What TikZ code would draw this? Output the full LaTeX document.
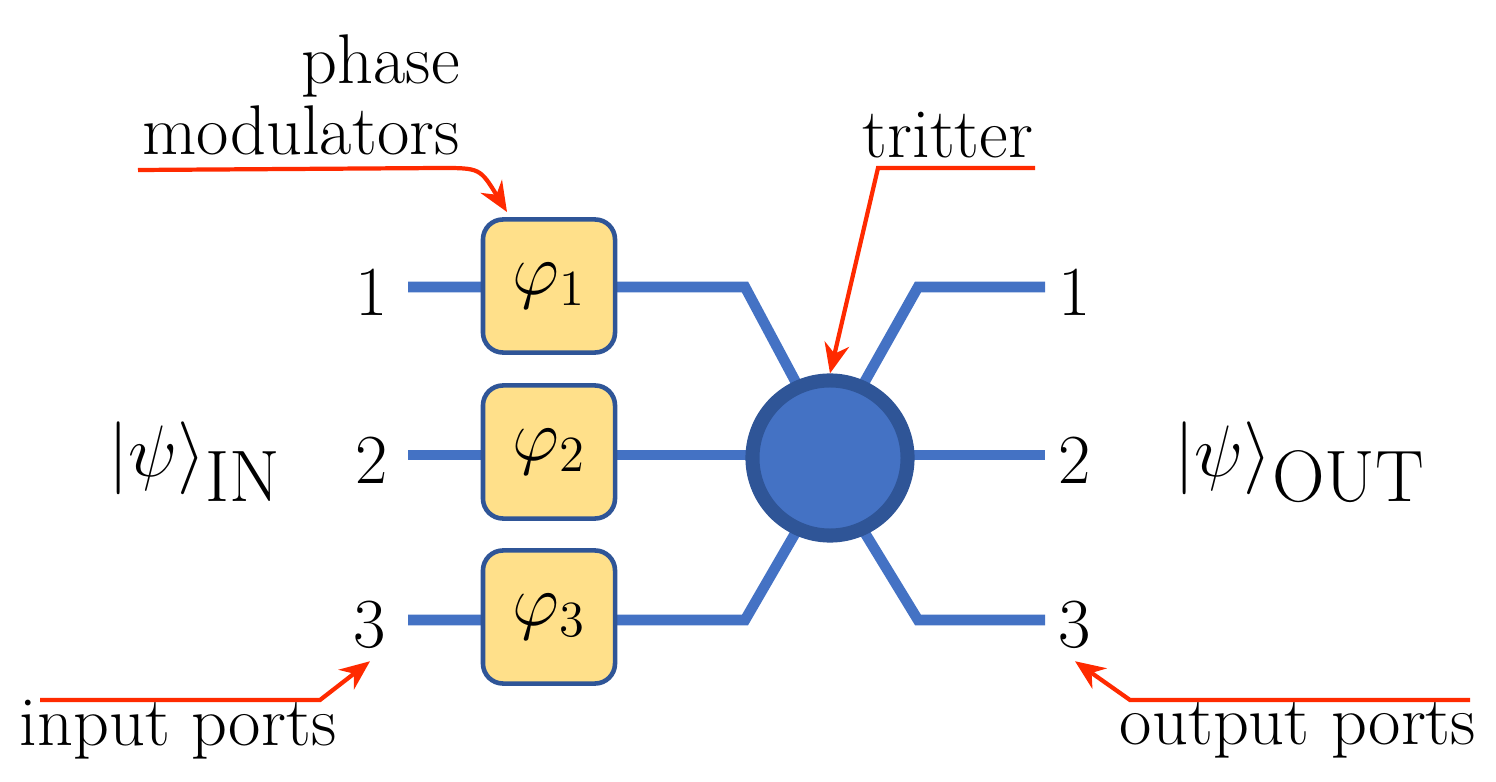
\documentclass[tikz,border=0pt]{standalone}
\usetikzlibrary{arrows.meta}
\begin{document}
\begin{tikzpicture}[x=0.01cm,y=-0.01cm,
  wg/.style={draw=wgblue,line width=3pt},
  pm/.style={draw=bord,fill=pmyellow,line width=1.3pt,rounded corners=0.2cm,minimum width=1.32cm,minimum height=1.33cm,inner sep=0pt,font=\fontsize{20}{24}\selectfont},
  lab/.style={font=\fontsize{20}{23}\selectfont},
  big/.style={font=\fontsize{22}{26}\selectfont},
  rd/.style={draw=arred,line width=1.2pt,-{Stealth[length=0.3cm,width=0.25cm]}}]
\definecolor{wgblue}{HTML}{4472C4}
\definecolor{bord}{HTML}{2F5597}
\definecolor{pmyellow}{HTML}{FFE08A}
\definecolor{arred}{HTML}{FF2A00}
\useasboundingbox (0,0) rectangle (1496,782);
\coordinate (l1) at (408,287); \coordinate (l2) at (408,455); \coordinate (l3) at (408,620);
\coordinate (r1) at (1045,287); \coordinate (r2) at (1045,455); \coordinate (r3) at (1045,620);
\draw[wg] (l1) -- (745,287) -- (800,390);
\draw[wg] (l3) -- (745,620) -- (800,525);
\draw[wg] (l2) -- (r2);
\draw[wg] (860,390) -- (918,287) -- (r1);
\draw[wg] (860,525) -- (918,620) -- (r3);
\node[circle,draw=bord,fill=wgblue,line width=4pt,minimum size=1.55cm] (tr) at (830,458) {};
\node[pm] (p1) at (549,286) {$\varphi_1$};
\node[pm] (p2) at (549,452) {$\varphi_2$};
\node[pm] (p3) at (549,617) {$\varphi_3$};
\node[lab] (i1) at (372,292) {1};
\node[lab] (i2) at (372,460) {2};
\node[lab] (i3) at (370,625) {3};
\node[lab] (o1) at (1075,292) {1};
\node[lab] (o2) at (1075,460) {2};
\node[lab] (o3) at (1075,625) {3};
\node[big] (in) at (195,462) {$|\psi\rangle_{\textstyle\mathrm{IN}}$};
\node[big] (out) at (1300,462) {$|\psi\rangle_{\textstyle\mathrm{OUT}}$};
\node[lab,align=right,anchor=east] (phm) at (472,95) {phase\\[-3pt]modulators};
\node[lab] (trt) at (948,135) {tritter};
\node[lab] (inp) at (178,730) {input ports};
\node[lab] (outp) at (1298,730) {output ports};
\coordinate (pa) at (507,212);
\draw[rd] (138,170) -- (440,168) .. controls (480,168) .. (pa);
\draw[rd] (1035,168) -- (878,168) -- (tr.north);
\draw[rd] (40,700) -- (320,700) -- (i3.south);
\draw[rd] (1470,700) -- (1130,700) -- (o3.south);
\end{tikzpicture}
\end{document}
